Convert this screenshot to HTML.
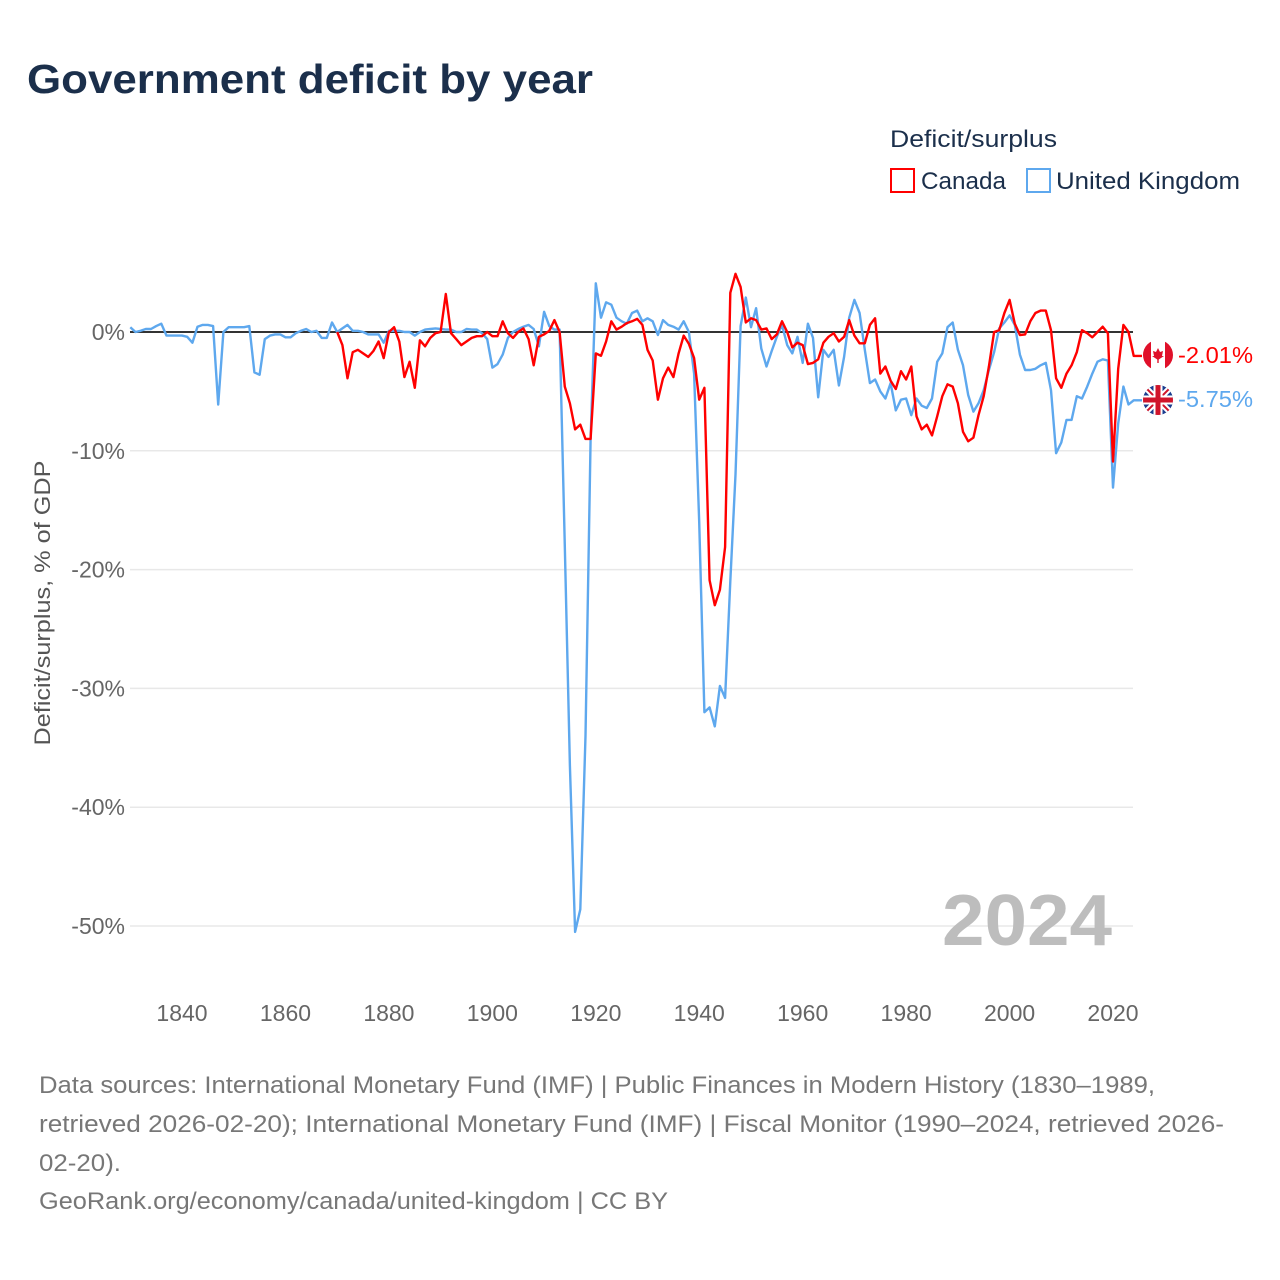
<!DOCTYPE html>
<html><head><meta charset="utf-8"><style>
html,body{margin:0;padding:0;background:#fff;}
body{width:1280px;height:1280px;position:relative;font-family:"Liberation Sans",sans-serif;overflow:hidden;}
svg{position:absolute;left:0;top:0;}
</style></head><body>
<svg id="chart" width="1280" height="1280" viewBox="0 0 1280 1280">
<text x="27" y="93" font-size="41" font-weight="bold" fill="#1b2f4b" textLength="566" lengthAdjust="spacingAndGlyphs">Government deficit by year</text>
<text x="890" y="147" font-size="24" fill="#1b2f4b" textLength="167" lengthAdjust="spacingAndGlyphs">Deficit/surplus</text>
<g>
<rect x="891" y="169" width="23" height="23" fill="none" stroke="#f00" stroke-width="2"/>
<text x="921" y="189" font-size="24" fill="#1b2f4b" textLength="85" lengthAdjust="spacingAndGlyphs">Canada</text>
</g>
<g>
<rect x="1027" y="169" width="23" height="23" fill="none" stroke="#5ea8ee" stroke-width="2"/>
<text x="1056" y="189" font-size="24" fill="#1b2f4b" textLength="184" lengthAdjust="spacingAndGlyphs">United Kingdom</text>
</g>
<text transform="translate(50,603) rotate(-90)" text-anchor="middle" font-size="22" fill="#555" textLength="285" lengthAdjust="spacingAndGlyphs">Deficit/surplus, % of GDP</text>
<g id="grid"></g>
<g id="yticks"></g>
<g id="xticks"></g>
<text x="942" y="945" font-size="72" font-weight="bold" fill="#bdbdbd" textLength="170" lengthAdjust="spacingAndGlyphs">2024</text>
<g id="series"></g>
<g>
<clipPath id="cc"><circle cx="1158" cy="355" r="15"/></clipPath>
<g clip-path="url(#cc)">
<rect x="1143" y="340" width="30" height="30" fill="#fff"/>
<rect x="1143" y="340" width="8" height="30" fill="#e0102a"/>
<rect x="1165" y="340" width="8" height="30" fill="#e0102a"/>
<path d="M1158 348 l2 4 l3 -1 l-1 5 l2 0 l-6 4 l-6 -4 l2 0 l-1 -5 l3 1z" fill="#e0102a"/>
<rect x="1157.3" y="359" width="1.4" height="4" fill="#e0102a"/>
</g>
</g>
<g>
<clipPath id="uc"><circle cx="1158" cy="400" r="15"/></clipPath>
<g clip-path="url(#uc)">
<rect x="1143" y="385" width="30" height="30" fill="#1b3d8f"/>
<path d="M1143 385 L1173 415 M1173 385 L1143 415" stroke="#fff" stroke-width="6"/>
<path d="M1143 385 L1173 415 M1173 385 L1143 415" stroke="#d0142a" stroke-width="2"/>
<path d="M1158 385 V415 M1143 400 H1173" stroke="#fff" stroke-width="9"/>
<path d="M1158 385 V415 M1143 400 H1173" stroke="#d0142a" stroke-width="5"/>
</g>
</g>
<text x="1178" y="363" font-size="23" fill="#f00" textLength="75" lengthAdjust="spacingAndGlyphs">-2.01%</text>
<text x="1178" y="407" font-size="23" fill="#5ea8ee" textLength="75" lengthAdjust="spacingAndGlyphs">-5.75%</text>
<g font-size="24" fill="#777">
<text x="39" y="1093" textLength="1116" lengthAdjust="spacingAndGlyphs">Data sources: International Monetary Fund (IMF) | Public Finances in Modern History (1830–1989,</text>
<text x="39" y="1132" textLength="1185" lengthAdjust="spacingAndGlyphs">retrieved 2026-02-20); International Monetary Fund (IMF) | Fiscal Monitor (1990–2024, retrieved 2026-</text>
<text x="39" y="1171" textLength="82" lengthAdjust="spacingAndGlyphs">02-20).</text>
<text x="39" y="1209" textLength="629" lengthAdjust="spacingAndGlyphs">GeoRank.org/economy/canada/united-kingdom | CC BY</text>
</g>
</svg>
<script>
const ukStart = 1830;
const ukValues = [
0.4,0,0.1,0.25,0.25,0.5,0.7,-0.3,-0.3,-0.3,
-0.3,-0.4,-0.9,0.45,0.6,0.6,0.5,-6.1,0,0.4,
0.4,0.4,0.4,0.5,-3.4,-3.6,-0.6,-0.3,-0.2,-0.2,
-0.45,-0.45,-0.1,0.1,0.25,0,0.1,-0.5,-0.5,0.8,
0,0.3,0.6,0.1,0.1,0,-0.2,-0.2,-0.2,-0.9,
0.1,0.1,0.1,0,0,-0.3,0,0.2,0.25,0.3,
0.25,0.2,0.2,0,0,0.25,0.2,0.2,-0.1,-0.6,
-3.0,-2.7,-1.9,-0.5,0,0.25,0.45,0.6,0.25,-1.2,
1.7,0.5,0.2,0.2,-18,-36.5,-50.5,-48.6,-34,-9,
4.1,1.2,2.5,2.3,1.2,0.9,0.7,1.6,1.8,0.9,
1.15,0.9,-0.25,1.0,0.6,0.45,0.2,0.9,0,-3.5,
-16,-32,-31.6,-33.2,-29.8,-30.8,-21,-12,0.5,2.9,
0.4,2.0,-1.4,-2.9,-1.6,-0.4,0.6,-1.1,-1.8,-0.4,
-2.6,0.7,-0.5,-5.5,-1.5,-2.1,-1.5,-4.5,-2.1,1.2,
2.7,1.6,-1.5,-4.3,-4.0,-5.0,-5.6,-4.3,-6.6,-5.7,
-5.6,-7.0,-5.6,-6.2,-6.4,-5.6,-2.5,-1.8,0.4,0.8,
-1.5,-2.8,-5.3,-6.7,-6.0,-4.9,-3.2,-1.7,0.3,0.8,
1.4,0.6,-1.9,-3.2,-3.2,-3.1,-2.8,-2.6,-4.9,-10.2,
-9.3,-7.4,-7.4,-5.4,-5.6,-4.6,-3.5,-2.5,-2.3,-2.4,
-13.1,-7.7,-4.6,-6.1,-5.75];
const caStart = 1870;
const caValues = [
0,-1.1,-3.9,-1.7,-1.5,-1.8,-2.1,-1.6,-0.8,-2.2,
0,0.4,-0.8,-3.8,-2.5,-4.7,-0.7,-1.2,-0.5,-0.1,
0,3.2,-0.1,-0.6,-1.1,-0.8,-0.5,-0.35,-0.35,0,
-0.35,-0.35,0.9,-0.1,-0.5,0,0.3,-0.6,-2.8,-0.4,
-0.2,0.1,1.0,0,-4.6,-6.0,-8.2,-7.8,-9.0,-9.0,
-1.8,-2.0,-0.8,0.9,0.2,0.45,0.75,0.9,1.1,0.6,
-1.5,-2.4,-5.7,-3.9,-3.0,-3.8,-1.8,-0.3,-1.0,-2.2,
-5.7,-4.7,-20.9,-23.0,-21.7,-18.1,3.3,4.9,3.8,0.8,
1.15,1.0,0.2,0.3,-0.6,-0.2,0.9,0,-1.3,-0.9,
-1.1,-2.7,-2.6,-2.3,-0.9,-0.4,-0.1,-0.8,-0.4,1.0,
-0.3,-0.95,-0.95,0.6,1.15,-3.5,-2.9,-4.1,-4.8,-3.3,
-4.0,-2.9,-7.1,-8.2,-7.8,-8.7,-7.1,-5.4,-4.4,-4.6,
-6.0,-8.4,-9.2,-8.9,-7.0,-5.4,-2.9,0,0.15,1.6,
2.7,0.7,-0.25,-0.2,0.9,1.6,1.8,1.8,0.15,-3.9,
-4.7,-3.5,-2.8,-1.7,0.15,-0.1,-0.45,0,0.45,-0.1,
-10.9,-3.1,0.6,0,-2.01];
const yTicks = [0,-10,-20,-30,-40,-50];
const yTickLabels = ["0%","-10%","-20%","-30%","-40%","-50%"];
const xTicks = [1840,1860,1880,1900,1920,1940,1960,1980,2000,2020];

const NS = "http://www.w3.org/2000/svg";
const X0 = 130.3, PX_PER_YEAR = (1113 - 182) / 180;
const xScale = yr => X0 + (yr - 1830) * PX_PER_YEAR;
const Y0 = 332, PX_PER_PCT = 11.88;
const yScale = v => Y0 - v * PX_PER_PCT;
const plotLeft = 130, plotRight = 1133;

function mk(tag, attrs, parent) {
  const el = document.createElementNS(NS, tag);
  for (const k in attrs) el.setAttribute(k, attrs[k]);
  parent.appendChild(el);
  return el;
}
const grid = document.getElementById('grid');
const yt = document.getElementById('yticks');
yTicks.forEach((v, i) => {
  if (v !== 0) {
    const g = mk('line', {x1: plotLeft, x2: plotRight, y1: yScale(v), y2: yScale(v), stroke: '#e8e8e8', 'stroke-width': 1.5}, grid);
    
    
  }
  const t = mk('text', {x: 125, y: yScale(v) + 8, 'text-anchor': 'end', 'font-size': 23, fill: '#666'}, yt);
  t.textContent = yTickLabels[i];
  
  
});
const xt = document.getElementById('xticks');
xTicks.forEach(yr => {
  const t = mk('text', {x: xScale(yr), y: 1021, 'text-anchor': 'middle', 'font-size': 23, fill: '#666'}, xt);
  t.textContent = yr;
  
  
});
const series = document.getElementById('series');
const zero = mk('line', {x1: plotLeft, x2: plotRight, y1: Y0, y2: Y0, stroke: '#333', 'stroke-width': 2}, series);



function drawLine(start, vals, color, name) {
  const pts = vals.map((v, i) => xScale(start + i).toFixed(1) + ',' + yScale(v).toFixed(1));
  const last = vals[vals.length - 1];
  pts.push('1142,' + yScale(last).toFixed(1));
  const p = mk('polyline', {points: pts.join(' '), fill: 'none', stroke: color, 'stroke-width': 2.4, 'stroke-linejoin': 'round'}, series);
  
  
}
drawLine(ukStart, ukValues, '#5ea8ee', 'uk-line');
drawLine(caStart, caValues, '#ff0000', 'canada-line');
</script>
</body></html>
